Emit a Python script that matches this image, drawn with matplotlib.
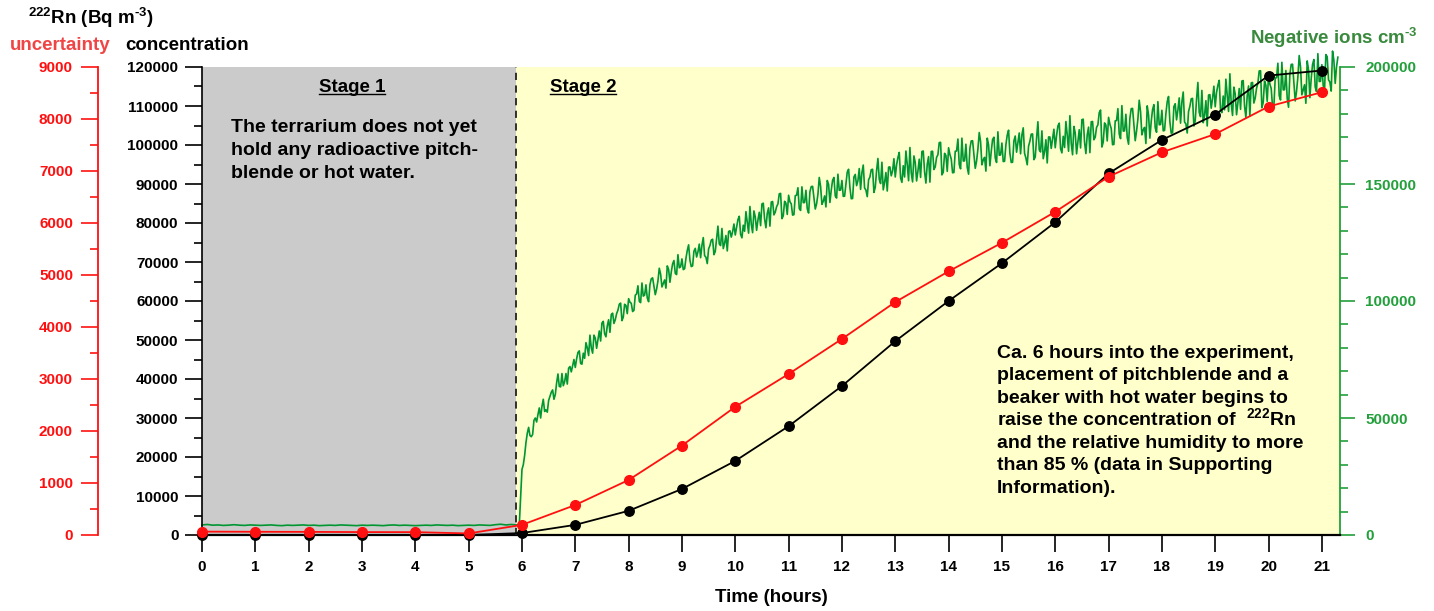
import matplotlib
matplotlib.use("Agg")
import matplotlib.pyplot as plt
from matplotlib.lines import Line2D
from matplotlib.ticker import MultipleLocator
import numpy as np

plt.rcParams['font.family'] = ['Liberation Sans', 'DejaVu Sans']
plt.rcParams['font.weight'] = 'bold'
plt.rcParams['mathtext.fontset'] = 'custom'
plt.rcParams['mathtext.rm'] = 'Liberation Sans:bold'
plt.rcParams['mathtext.default'] = 'rm'

# hourly radon values
hours = np.arange(0, 22)
rn_conc = [0, 0, 0, 0, 0, 0, 500, 2600, 6200, 11800, 19000, 27900, 38200,
           49700, 60000, 69700, 80200, 92700, 101300, 107800, 117800, 119100]
rn_unc = [65, 62, 60, 56, 55, 30, 195, 577, 1058, 1720, 2465, 3096, 3770,
          4480, 5070, 5620, 6215, 6890, 7360, 7710, 8240, 8515]

# negative ions, thousands per cm3
# stage 1, every 0.1 h from 0 to 5.9
ion_t1 = np.linspace(0, 5.9, 60)
ion_k1 = [4.3, 4.5, 4.2, 4.3, 4.1, 4.2, 4.4, 4.2, 4.1, 4.3,
          4.2, 4.1, 4.2, 4.3, 4.1, 4.0, 4.2, 4.1, 4.2, 4.3,
          4.1, 4.2, 4.0, 4.1, 4.2, 4.1, 4.3, 4.2, 4.1, 4.0,
          4.2, 4.1, 4.2, 4.1, 4.0, 4.2, 4.3, 4.1, 4.2, 4.1,
          4.0, 4.1, 4.2, 4.1, 4.3, 4.2, 4.1, 4.2, 4.0, 4.1,
          4.2, 4.1, 4.3, 4.2, 4.1, 4.4, 4.6, 4.3, 4.5, 4.3]
# stage 2, every 0.05 h from 5.95 to 21.30
ion_t2 = np.linspace(5.95, 21.30, 308)
ion_k2 = [4.4,
          28, 34, 43.5, 42.5, 43, 50, 51.5, 50, 58, 53.5, 57.5, 61, 58, 65, 63.5, 69, 65.5, 64.5, 72, 72.3,
          71.6, 78, 73.3, 77.7, 82.2, 76.7, 80, 85.4, 79.8, 87.2, 90.6, 86, 89.4, 86.6, 94.8, 92, 96.1, 99.1, 93.1, 98.1,
          101, 99, 96, 103, 99.9, 107.7, 102.5, 101.3, 107, 109.9, 102.7, 108.6, 111.5, 107.5, 105.5, 113.5, 112.4, 117.3, 111.3, 114.2,
          118, 113.8, 121.6, 117.4, 115, 122.5, 121, 118.5, 127.1, 118.7, 122.3, 126, 119.8, 126.6, 124.4, 131, 124.7, 121.4, 130, 129.6,
          128.2, 134.8, 128.5, 132.4, 138.2, 129, 132.8, 138.5, 130.2, 137.9, 141.5, 135, 137.5, 132, 142.5, 138, 141.5, 146, 136.4, 141.8,
          145.2, 141.5, 136.9, 145.2, 139.5, 148.8, 142.1, 139.4, 146.7, 149, 139.3, 145.6, 149, 142.6, 140.2, 149.8, 147.4, 152.8, 144, 147.3,
          151.5, 144.8, 155.1, 148.5, 143.8, 154.1, 151.4, 147.7, 158.1, 147.4, 151.8, 156.1, 146.4, 155.7, 152, 159.3, 150.7, 147, 157.3, 155.6,
          153, 161.3, 152.6, 157.8, 164.1, 151.4, 154.7, 162, 151.3, 160.6, 163.9, 155.2, 158.5, 150.8, 164, 157.3, 162.5, 167.8, 155, 162.2,
          165.5, 160.7, 154.9, 164.1, 158.3, 169.6, 159.9, 157.1, 165.3, 168.5, 156.7, 164.9, 168.1, 160.3, 155.5, 166.7, 163.9, 170, 159.2, 162.3,
          167.5, 159.7, 170.9, 163.1, 159.3, 170.5, 167.7, 162.9, 174, 161.1, 166.2, 171.3, 160.4, 169.5, 164.6, 172.7, 163.8, 159, 170.1, 169.3,
          165.5, 174.8, 165.1, 170.4, 176.7, 164, 167.3, 174.6, 162.9, 173.2, 177.5, 167.8, 171.1, 163.4, 176.7, 170, 175.3, 181.6, 167.9, 175.2,
          178.5, 173.7, 166.9, 177.1, 171.3, 183.5, 172.7, 169.9, 178.1, 182.3, 168.5, 177.7, 180.9, 173.1, 167.3, 179.5, 176.7, 183.9, 172.1, 175.3,
          181.5, 172.9, 185.2, 176.6, 171.9, 184.3, 181.6, 176, 189.3, 175.7, 181, 186.4, 174.8, 186.2, 180.6, 190, 179.4, 174.8, 188.2, 186.6,
          183, 192.2, 181.4, 187.6, 194.8, 181, 184.2, 191.4, 179.6, 190.8, 194, 183.3, 187.7, 179, 193.4, 186.7, 193.1, 198.4, 184.8, 192.2,
          196.5, 190.8, 183.1, 195.4, 187.7, 202, 190.3, 186.6, 196.9, 201.2, 185.5, 195.7, 200, 190.2, 184.5, 198.7, 195, 203.2, 189.5, 193.8,
          201, 190.2, 204.4, 193.6, 206.8, 193, 204.2]
# stage 2 readings in between, every 0.05 h from 6.025 to 21.275
ion_t3 = np.linspace(6.025, 21.275, 306)
ion_k3 = [30, 39.5, 46, 42, 49, 48.3, 54.3, 55, 52.8, 52.5, 59.3, 62, 60, 68.8, 63.3, 63.8, 69, 71.3, 69.7, 75,
          75.3, 78.7, 73, 75.5, 80, 85.4, 77.7, 84.1, 83.5, 82.9, 91.3, 84.7, 92, 94.2, 90.4, 94.6, 98.6, 91.6, 98.6, 94.6,
          99.5, 95.5, 102.5, 106.5, 99.3, 102.1, 106.9, 99.7, 109.5, 106.3, 105.1, 114, 106, 109, 115, 108, 115.9, 111.8, 119.8, 114.6,
          113.4, 118.2, 124, 114.7, 121.3, 118.8, 124.3, 123.8, 119.4, 116, 123.7, 126.4, 121.2, 132, 123.7, 122.4, 128, 129.7, 127.3, 132.9,
          131.5, 136.2, 127, 129.8, 133.6, 140.4, 129.2, 135.9, 134.6, 132.2, 141.8, 131.3, 139.8, 142.3, 136.8, 140.3, 145.8, 135.2, 142.6, 137,
          142.4, 136.7, 145, 148.4, 138.7, 142, 147.3, 137.6, 148.9, 144.2, 141.5, 152.8, 141.3, 144.9, 151.5, 142.1, 151.6, 144.9, 154.2, 147.4,
          144.7, 150, 156.3, 143.7, 153, 149.3, 156.6, 154.9, 148.3, 144.6, 153, 156.3, 148.6, 160.9, 150.2, 147.5, 154.9, 157.2, 153.5, 160.8,
          158.2, 163.5, 150.7, 153, 158.3, 165.6, 150.9, 159.2, 155.5, 152.8, 164.1, 150.4, 161.7, 163.9, 156.2, 161.4, 167.7, 153.9, 163.1, 155.4,
          162.6, 154.8, 164, 169.2, 156.5, 159.8, 167, 154.2, 168.4, 162.6, 159.8, 172, 158.2, 161.4, 169.6, 157.8, 169, 161.1, 172.3, 162.4,
          159.6, 166.8, 173, 159.2, 168.4, 163.6, 171.8, 171, 163.1, 158.2, 168.3, 171.4, 161.5, 176.6, 163.7, 160.8, 168.9, 170.1, 165.2, 173.4,
          170.7, 176, 163.3, 165.6, 170.9, 179.2, 162.5, 171.8, 168.1, 165.4, 177.7, 163, 174.3, 176.6, 168.9, 174.2, 180.5, 165.8, 176.1, 168.4,
          175.6, 166.8, 177, 182.2, 169.4, 172.6, 179.8, 167, 182.2, 175.4, 172.6, 185.8, 171, 174.2, 183.4, 169.6, 181.8, 174, 185.2, 175.4,
          172.7, 180, 187.4, 171.7, 183.1, 177.4, 186.8, 185.1, 176.5, 171.8, 183.2, 186.6, 177, 193.4, 178.8, 176.2, 185.6, 188, 182.4, 191.8,
          189.1, 194.3, 180.5, 181.7, 187.9, 197.1, 179.3, 188.5, 184.7, 181.9, 194.2, 178.5, 191.9, 193.2, 184.6, 190.9, 198.3, 182.6, 194, 185.3,
          192.7, 183, 195.3, 201.6, 185.9, 190.2, 198.5, 182.8, 201.1, 193.4, 189.6, 204.9, 188.1, 192.4, 202.6, 186.9, 201.1, 191.4, 205.7, 193.9,
          192.1, 205.3, 194.5, 189.7, 202.9, 200.1]

stage_split = 5.89

stage1_lines = ['The terrarium does not yet',
                'hold any radioactive pitch-',
                'blende or hot water.']
stage2_lines = ['Ca. 6 hours into the experiment,',
                'placement of pitchblende and a',
                'beaker with hot water begins to',
                r'raise the concentration of  $^{222}$Rn',
                'and the relative humidity to more',
                'than 85 % (data in Supporting',
                'Information).']

ion_t = np.concatenate([ion_t1, ion_t2, ion_t3])
ion_v = np.array(ion_k1 + ion_k2 + ion_k3) * 1000
order = np.argsort(ion_t)
ion_t = ion_t[order]
ion_v = ion_v[order]

RED = '#ff1010'
GREEN_LINE = '#009632'
GREEN_AX = '#23a03c'

W, H = 1434, 611
def fx(x):
    return x / W
def fy(y):
    return 1 - y / H

fig = plt.figure(figsize=(W / 100, H / 100), dpi=100)
ax = fig.add_axes([fx(202), fy(535), (1340 - 202) / W, (535 - 67) / H])
ax_g = ax.twinx()
ax_r = ax.twinx()
ax_g.set_zorder(1)
ax.set_zorder(2)
ax_r.set_zorder(3)
ax.patch.set_visible(False)

# backgrounds and green ion trace
ax_g.axvspan(0, stage_split, color='#cbcbcb', lw=0, zorder=0)
ax_g.axvspan(stage_split, 22, color='#ffffcc', lw=0, zorder=0)
ax_g.plot(ion_t, ion_v, color=GREEN_LINE, lw=1.2, zorder=2, clip_on=False)
ax_g.set_ylim(0, 200000)

ax.axvline(stage_split, color='#222222', lw=1.3, ls=(0, (4, 3)), zorder=3)
ax.plot(hours, rn_conc, color='black', lw=1.3, marker='o', ms=6.8, zorder=4,
        clip_on=False)
ax.set_ylim(0, 120000)
ax.set_xlim(0, 21.34)

ax_r.plot(hours, rn_unc, color=RED, lw=1.3, marker='o', ms=7, zorder=4,
          clip_on=False)
ax_r.set_ylim(0, 9000)

# spines
for s in ['top', 'right']:
    ax.spines[s].set_visible(False)
ax.spines['left'].set_linewidth(1.2)
ax.spines['bottom'].set_linewidth(1.6)
for s in ['top', 'left', 'bottom']:
    ax_g.spines[s].set_visible(False)
ax_g.spines['right'].set_color(GREEN_AX)
ax_g.spines['right'].set_linewidth(1.3)
for s in ['top', 'right', 'bottom']:
    ax_r.spines[s].set_visible(False)
ax_r.spines['left'].set_visible(True)
ax_r.spines['left'].set_position(('axes', (98 - 202) / (1340 - 202)))
ax_r.spines['left'].set_color(RED)
ax_r.spines['left'].set_linewidth(1.3)
ax_r.yaxis.set_ticks_position('left')
ax_r.yaxis.set_label_position('left')

# ticks
ax.set_xticks(hours)
ax.tick_params(axis='x', direction='out', length=12, width=1.2, pad=6,
               labelsize=11)
ax.yaxis.set_major_locator(MultipleLocator(10000))
ax.yaxis.set_minor_locator(MultipleLocator(5000))
ax.tick_params(axis='y', which='major', direction='out', length=12,
               width=1.2, pad=5, labelsize=11)
ax.tick_params(axis='y', which='minor', direction='out', length=6, width=1.2)

ax_r.yaxis.set_major_locator(MultipleLocator(1000))
ax_r.yaxis.set_minor_locator(MultipleLocator(500))
ax_r.tick_params(axis='y', which='major', direction='out', length=12,
                 width=1.2, pad=6, labelsize=11, colors=RED)
ax_r.tick_params(axis='y', which='minor', direction='out', length=6,
                 width=1.2, colors=RED)

ax_g.yaxis.set_major_locator(MultipleLocator(50000))
ax_g.yaxis.set_minor_locator(MultipleLocator(10000))
ax_g.tick_params(axis='y', which='major', direction='out', length=11,
                 width=1.2, pad=7, labelsize=11, colors=GREEN_AX)
ax_g.tick_params(axis='y', which='minor', direction='out', length=6,
                 width=1.2, colors=GREEN_AX)

ax.set_xlabel('Time (hours)', fontsize=13.5, fontweight='bold', labelpad=11)

# axis titles
fig.text(fx(28), fy(24), r'$^{222}$Rn (Bq m$^{\mathrm{‐}3}$)', fontsize=13.5,
         va='baseline', ha='left')
fig.text(fx(10), fy(50), 'uncertainty', color='#f04545', fontsize=13.5,
         va='baseline', ha='left')
fig.text(fx(125), fy(50), 'concentration', color='black', fontsize=13.5,
         va='baseline', ha='left')
fig.text(fx(1250), fy(44), r'Negative ions cm$^{\mathrm{‐}3}$', color='#3a8a3e',
         fontsize=13.5, va='baseline', ha='left')

# stage annotations
st1 = fig.text(fx(352), fy(87), 'Stage 1', fontsize=13.5, ha='center',
               va='center')
st2 = fig.text(fx(583), fy(87), 'Stage 2', fontsize=13.5, ha='center',
               va='center')
for i, line in enumerate(stage1_lines):
    fig.text(fx(231), fy(132 + 23 * i), line, fontsize=14, ha='left',
             va='baseline')
for i, line in enumerate(stage2_lines):
    fig.text(fx(997), fy(358 + 22.5 * i), line, fontsize=14, ha='left',
             va='baseline')

# underline the stage headings
fig.canvas.draw()
for t in (st1, st2):
    bb = t.get_window_extent()
    yline = (bb.y0 + 2) / H
    fig.add_artist(Line2D([bb.x0 / W, bb.x1 / W], [yline, yline],
                          color='black', lw=1.0, transform=fig.transFigure))

fig.savefig('out.png', dpi=100)
